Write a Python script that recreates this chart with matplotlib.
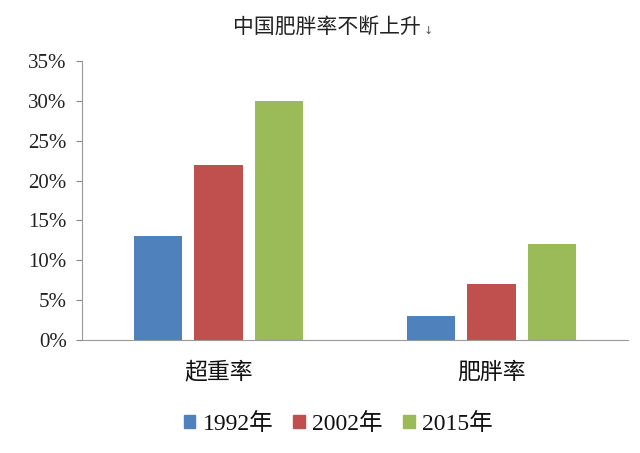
import matplotlib
matplotlib.use("Agg")
import matplotlib.pyplot as plt
import numpy as np
from matplotlib.patches import Patch

categories = ["超重率", "肥胖率"]
series_names = ["1992年", "2002年", "2015年"]
values_1992 = [13, 3]
values_2002 = [22, 7]
values_2015 = [30, 12]
colors = ["#4F81BD", "#C0504D", "#9BBB59"]
yticks = [0, 5, 10, 15, 20, 25, 30, 35]

plt.rcParams['font.family'] = ['Liberation Serif', 'Noto Sans CJK SC', 'DejaVu Sans']

fig = plt.figure(figsize=(6.4, 4.53), dpi=100)
ax = fig.add_axes([82 / 640, 113 / 453, 546 / 640, 279 / 453])

x = np.arange(len(categories))
width = 0.176
step = 0.223
all_vals = [values_1992, values_2002, values_2015]
for i, (vals, c) in enumerate(zip(all_vals, colors)):
    ax.bar(x + (i - 1) * step, vals, width=width, color=c)

ax.set_xlim(-0.5, 1.5)
ax.set_ylim(0, 35)
ax.set_yticks(yticks)
ax.set_yticklabels([f"{t}%" for t in yticks], fontsize=15, family=['Liberation Serif'],
                   color='#222222')
ax.set_xticks(x)
ax.set_xticklabels(categories, fontsize=16.5, family=['Noto Sans CJK SC', 'DejaVu Sans'],
                   color='#111111')
ax.tick_params(axis='x', length=0, pad=15)
ax.tick_params(axis='y', length=4, color='#888888', pad=7, direction='out')
for s in ['top', 'right']:
    ax.spines[s].set_visible(False)
ax.spines['left'].set_color('#999999')
ax.spines['bottom'].set_color('#999999')

fig.text(327 / 640, 1 - 27 / 453, "中国肥胖率不断上升", ha='center', va='center', fontsize=15,
         family=['Noto Sans CJK SC', 'DejaVu Sans'], color='#222222')
fig.text(424 / 640, 1 - 31 / 453, "↓", ha='left', va='center', fontsize=8,
         family=['DejaVu Sans'], color='#555555')

handles = [Patch(color=c) for c in colors]
leg = fig.legend(handles, series_names, loc='center', bbox_to_anchor=(338 / 640, 1 - 424 / 453),
                 ncol=3, frameon=False, handlelength=0.5, handleheight=0.5,
                 handletextpad=0.3, columnspacing=0.85,
                 prop={'family': ['Liberation Serif', 'Noto Sans CJK SC'], 'size': 17})
for t in leg.get_texts():
    t.set_color('#111111')

fig.savefig("out.png", dpi=100, facecolor='white')
